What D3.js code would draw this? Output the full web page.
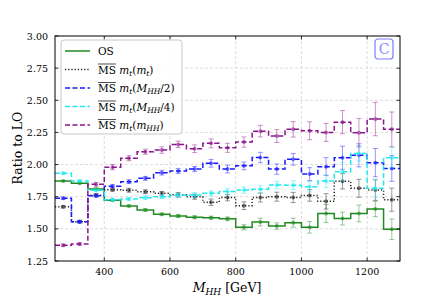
<!DOCTYPE html>
<html>
<head>
<meta charset="utf-8">
<script src="https://cdn.jsdelivr.net/npm/d3@7"></script>
<style>
  body { margin: 0; background: #fff; }
  svg { display: block; }
  svg text { font-family: "DejaVu Serif", "Liberation Serif", serif; }
</style>
</head>
<body>
<div id="chart"></div>
<script>

const FRAME_WIDTH = 444;
const FRAME_HEIGHT = 305;
const MARGINS = {left: 55, right: 44, top: 36, bottom: 44};
const VIS_WIDTH = FRAME_WIDTH - MARGINS.left - MARGINS.right;
const VIS_HEIGHT = FRAME_HEIGHT - MARGINS.top - MARGINS.bottom;

// bin edges in GeV
const binEdges = [250, 300, 350, 400, 450, 500, 550, 600, 650, 700, 750,
                  800, 850, 900, 950, 1000, 1050, 1100, 1150, 1200, 1250, 1300];

// ratio to LO per bin
const osVals   = [1.872, 1.855, 1.810, 1.722, 1.678, 1.647, 1.613, 1.600, 1.590, 1.587, 1.578,
                  1.512, 1.553, 1.522, 1.548, 1.512, 1.620, 1.580, 1.620, 1.655, 1.497];
const mtVals   = [1.672, 1.556, 1.762, 1.805, 1.800, 1.789, 1.776, 1.765, 1.750, 1.707, 1.743,
                  1.680, 1.744, 1.750, 1.744, 1.760, 1.714, 1.870, 1.815, 1.802, 1.727];
const halfVals = [1.738, 1.556, 1.758, 1.832, 1.867, 1.893, 1.937, 1.950, 1.965, 2.010, 1.965,
                  1.990, 2.055, 1.965, 2.041, 1.926, 1.984, 2.053, 2.072, 2.015, 1.970];
const qtrVals  = [1.932, 1.872, 1.800, 1.727, 1.732, 1.742, 1.750, 1.761, 1.763, 1.776, 1.790,
                  1.802, 1.808, 1.841, 1.840, 1.828, 1.872, 1.944, 2.087, 1.815, 2.053];
const mhhVals  = [1.372, 1.382, 1.846, 1.980, 2.050, 2.100, 2.113, 2.157, 2.123, 2.165, 2.130,
                  2.175, 2.260, 2.222, 2.274, 2.263, 2.250, 2.330, 2.248, 2.354, 2.274];

// statistical errors (half widths)
const osErr   = [0.005, 0.005, 0.008, 0.008, 0.008, 0.010, 0.010, 0.012, 0.012, 0.012, 0.015,
                 0.020, 0.030, 0.025, 0.035, 0.045, 0.070, 0.050, 0.065, 0.060, 0.080];
const mtErr   = [0.010, 0.010, 0.012, 0.012, 0.015, 0.015, 0.015, 0.018, 0.020, 0.025, 0.025,
                 0.030, 0.035, 0.035, 0.040, 0.045, 0.060, 0.060, 0.070, 0.080, 0.090];
const halfErr = [0.010, 0.010, 0.012, 0.012, 0.015, 0.015, 0.018, 0.020, 0.020, 0.030, 0.030,
                 0.030, 0.040, 0.040, 0.045, 0.050, 0.070, 0.090, 0.090, 0.110, 0.100];
const qtrErr  = [0.010, 0.010, 0.010, 0.012, 0.012, 0.015, 0.015, 0.015, 0.020, 0.020, 0.025,
                 0.025, 0.030, 0.030, 0.035, 0.040, 0.050, 0.070, 0.060, 0.070, 0.080];
const mhhErr  = [0.010, 0.010, 0.015, 0.020, 0.020, 0.020, 0.025, 0.025, 0.030, 0.035, 0.035,
                 0.040, 0.045, 0.050, 0.060, 0.070, 0.070, 0.090, 0.110, 0.130, 0.135];

const xTicks = [400, 600, 800, 1000, 1200];
const yTicks = [1.25, 1.50, 1.75, 2.00, 2.25, 2.50, 2.75, 3.00];

const SERIES = [
  {vals: osVals,   err: osErr,   color: "#1f8a1f", dash: null,  label: ["OS"]},
  {vals: mtVals,   err: mtErr,   color: "#222222", dash: "1.2,2", label: ["MS", "m", "t", "(m", "t", ")"]},
  {vals: halfVals, err: halfErr, color: "#1a1aff", dash: "5,2.5", label: ["MS", "m", "t", "(M", "HH", "/2)"]},
  {vals: qtrVals,  err: qtrErr,  color: "#22e8f0", dash: "5,2.5", label: ["MS", "m", "t", "(M", "HH", "/4)"]},
  {vals: mhhVals,  err: mhhErr,  color: "#8b158b", dash: "5,2.5", label: ["MS", "m", "t", "(m", "HH", ")"]}
];

const svg = d3.select("#chart")
  .append("svg")
    .attr("width", FRAME_WIDTH)
    .attr("height", FRAME_HEIGHT);

const X_SCALE = d3.scaleLinear().domain([250, 1300]).range([0, VIS_WIDTH]);
const Y_SCALE = d3.scaleLinear().domain([1.25, 3.00]).range([VIS_HEIGHT, 0]);

const plot = svg.append("g")
  .attr("transform", `translate(${MARGINS.left},${MARGINS.top})`);

// grid
plot.append("g")
  .selectAll("line")
  .data(xTicks)
  .enter()
  .append("line")
    .attr("x1", d => X_SCALE(d)).attr("x2", d => X_SCALE(d))
    .attr("y1", 0).attr("y2", VIS_HEIGHT)
    .attr("stroke", "#d4d4d4").attr("stroke-width", 0.8)
    .attr("stroke-dasharray", "3,2");

plot.append("g")
  .selectAll("line")
  .data(yTicks.slice(1, -1))
  .enter()
  .append("line")
    .attr("x1", 0).attr("x2", VIS_WIDTH)
    .attr("y1", d => Y_SCALE(d)).attr("y2", d => Y_SCALE(d))
    .attr("stroke", "#d4d4d4").attr("stroke-width", 0.8)
    .attr("stroke-dasharray", "3,2");

svg.append("clipPath").attr("id", "clip")
  .append("rect").attr("width", VIS_WIDTH).attr("height", VIS_HEIGHT);

const marks = plot.append("g").attr("clip-path", "url(#clip)");

const stepLine = d3.line()
  .x(d => X_SCALE(d[0]))
  .y(d => Y_SCALE(d[1]));

SERIES.forEach(s => {
  const pts = [];
  s.vals.forEach((v, i) => {
    pts.push([binEdges[i], v]);
    pts.push([binEdges[i + 1], v]);
  });

  const centers = s.vals.map((v, i) => ({
    x: (binEdges[i] + binEdges[i + 1]) / 2, y: v, e: s.err[i]
  }));

  const g = marks.append("g");

  // error bars
  g.selectAll(".eb")
    .data(centers)
    .enter()
    .append("path")
      .attr("d", d => {
        const cx = X_SCALE(d.x), y1 = Y_SCALE(d.y - d.e), y2 = Y_SCALE(d.y + d.e);
        return `M${cx},${y1}V${y2}M${cx - 2.5},${y1}H${cx + 2.5}M${cx - 2.5},${y2}H${cx + 2.5}`;
      })
      .attr("stroke", s.color).attr("stroke-opacity", 0.45)
      .attr("stroke-width", 1).attr("fill", "none");

  g.selectAll(".pt")
    .data(centers)
    .enter()
    .append("circle")
      .attr("cx", d => X_SCALE(d.x))
      .attr("cy", d => Y_SCALE(d.y))
      .attr("r", 2)
      .attr("fill", s.color).attr("fill-opacity", 0.6);

  g.append("path")
    .attr("d", stepLine(pts))
    .attr("fill", "none")
    .attr("stroke", s.color)
    .attr("stroke-width", 1.5)
    .attr("stroke-dasharray", s.dash);
});

// frame and inward ticks
plot.append("rect")
  .attr("width", VIS_WIDTH).attr("height", VIS_HEIGHT)
  .attr("fill", "none").attr("stroke", "#000").attr("stroke-width", 1);

const tickG = plot.append("g").attr("stroke", "#000").attr("stroke-width", 0.8);
xTicks.forEach(t => {
  tickG.append("line").attr("x1", X_SCALE(t)).attr("x2", X_SCALE(t))
    .attr("y1", VIS_HEIGHT).attr("y2", VIS_HEIGHT - 3.5);
  tickG.append("line").attr("x1", X_SCALE(t)).attr("x2", X_SCALE(t))
    .attr("y1", 0).attr("y2", 3.5);
});
yTicks.forEach(t => {
  tickG.append("line").attr("x1", 0).attr("x2", 3.5)
    .attr("y1", Y_SCALE(t)).attr("y2", Y_SCALE(t));
  tickG.append("line").attr("x1", VIS_WIDTH).attr("x2", VIS_WIDTH - 3.5)
    .attr("y1", Y_SCALE(t)).attr("y2", Y_SCALE(t));
});

plot.append("g")
  .selectAll("text")
  .data(xTicks)
  .enter()
  .append("text")
    .attr("x", d => X_SCALE(d))
    .attr("y", VIS_HEIGHT + 14)
    .attr("text-anchor", "middle")
    .attr("font-size", 9.5)
    .text(d => d);

plot.append("g")
  .selectAll("text")
  .data(yTicks)
  .enter()
  .append("text")
    .attr("x", -7)
    .attr("y", d => Y_SCALE(d) + 3.5)
    .attr("text-anchor", "end")
    .attr("font-size", 9.5)
    .text(d => d.toFixed(2));

// axis titles
const xTitle = svg.append("text")
  .attr("x", 227).attr("y", 292)
  .attr("text-anchor", "middle")
  .attr("font-size", 12.5);
xTitle.append("tspan").attr("font-style", "italic").text("M");
xTitle.append("tspan").attr("font-style", "italic").attr("font-size", 9).attr("dy", 2.5).text("HH");
xTitle.append("tspan").attr("dy", -2.5).text(" [GeV]");

svg.append("text")
  .attr("transform", "translate(22,148) rotate(-90)")
  .attr("text-anchor", "middle")
  .attr("font-size", 12.5)
  .text("Ratio to LO");

// legend
const legend = svg.append("g").attr("transform", "translate(61,40)");
legend.append("rect")
  .attr("width", 121).attr("height", 94).attr("rx", 3)
  .attr("fill", "#fff").attr("fill-opacity", 0.85)
  .attr("stroke", "#c8c8c8").attr("stroke-width", 1);

SERIES.forEach((s, i) => {
  const y = 11 + i * 18.5;
  legend.append("line")
    .attr("x1", 4).attr("x2", 29).attr("y1", y).attr("y2", y)
    .attr("stroke", s.color).attr("stroke-width", 1.5)
    .attr("stroke-dasharray", s.dash);

  const t = legend.append("text")
    .attr("x", 37).attr("y", y + 4)
    .attr("font-size", 10.5);
  t.append("tspan").text(s.label[0]);
  if (s.label.length > 1) {
    const msLen = t.node().getComputedTextLength();
    legend.append("line")
      .attr("x1", 37).attr("x2", 37 + msLen)
      .attr("y1", y - 5.5).attr("y2", y - 5.5)
      .attr("stroke", "#000").attr("stroke-width", 0.7);
    t.append("tspan").attr("font-style", "italic").text(" " + s.label[1]);
    t.append("tspan").attr("font-style", "italic").attr("font-size", 7.5).attr("dy", 2).text(s.label[2]);
    const par = s.label[3];
    t.append("tspan").attr("dy", -2).text("(");
    t.append("tspan").attr("font-style", "italic").text(par.slice(1));
    t.append("tspan").attr("font-style", "italic").attr("font-size", 7.5).attr("dy", 2).text(s.label[4]);
    t.append("tspan").attr("dy", -2).text(s.label[5]);
  }
});

// corner badge
const badge = svg.append("g").attr("transform", "translate(375,39)");
badge.append("rect")
  .attr("width", 18).attr("height", 20).attr("rx", 3)
  .attr("fill", "none").attr("stroke", "#7b7bff").attr("stroke-width", 1.2);
badge.append("text")
  .attr("x", 9).attr("y", 15)
  .attr("text-anchor", "middle")
  .attr("font-size", 14)
  .attr("fill", "#8c8cff")
  .text("C");

</script>
</body>
</html>
